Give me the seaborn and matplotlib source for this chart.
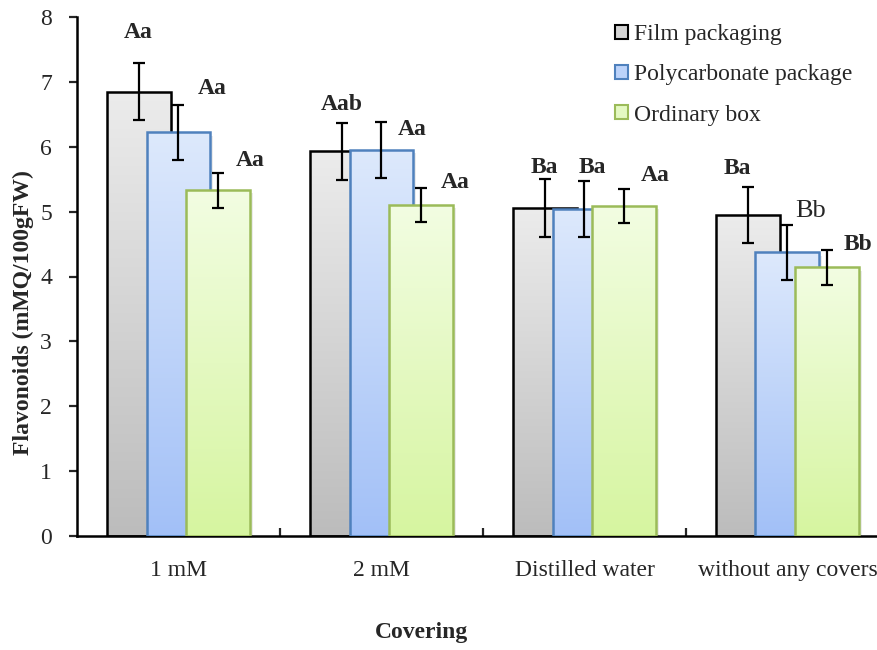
import numpy as np
import pandas as pd
import matplotlib
matplotlib.use("Agg")
import matplotlib.pyplot as plt
from matplotlib.colors import LinearSegmentedColormap
from matplotlib.patches import Patch
import seaborn as sns

# Flavonoid content by covering treatment and packaging type
categories = ["1 mM", "2 mM", "Distilled water", "without any covers"]
series = ["Film packaging", "Polycarbonate package", "Ordinary box"]
film = [6.85, 5.93, 5.06, 4.95]
poly = [6.22, 5.95, 5.04, 4.37]
box = [5.33, 5.10, 5.09, 4.14]
film_err = [0.44, 0.44, 0.45, 0.43]
poly_err = [0.42, 0.43, 0.43, 0.42]
box_err = [0.27, 0.26, 0.26, 0.27]
film_sig = ["Aa", "Aab", "Ba", "Ba"]
poly_sig = ["Aa", "Aa", "Ba", "Bb"]
box_sig = ["Aa", "Aa", "Aa", "Bb"]
yticks = [0, 1, 2, 3, 4, 5, 6, 7, 8]

values = [film, poly, box]
errors = [film_err, poly_err, box_err]
sigs = [film_sig, poly_sig, box_sig]

df = pd.DataFrame({
    "Covering": [c for _ in series for c in categories],
    "Series": [s for s in series for _ in categories],
    "Value": film + poly + box,
})

sns.set_theme(style="ticks")
plt.rcParams["font.family"] = ["Liberation Serif", "DejaVu Serif"]
plt.rcParams["font.size"] = 17

fig = plt.figure(figsize=(8.78, 6.5), dpi=100)
ax = fig.add_axes([77 / 878, 114 / 650, 801 / 878, 519 / 650])

edge_colors = ["#000000", "#4f81bd", "#9bbb59"]
grad_top = ["#ececec", "#dde9fc", "#f2fde2"]
grad_bottom = ["#bcbcbc", "#a2c0f7", "#d6f5a0"]
legend_face = ["#d4d4d4", "#bcd3fa", "#e4f9c2"]

sns.barplot(data=df, x="Covering", y="Value", hue="Series", order=categories,
            hue_order=series, width=0.59, errorbar=None, legend=False, ax=ax)
bar_groups = list(ax.containers)

bar_w = 0.315
grad = np.linspace(1, 0, 256).reshape(-1, 1)
for k, cont in enumerate(bar_groups):
    z = 2 + k
    cmap = LinearSegmentedColormap.from_list(f"g{k}", [grad_bottom[k], grad_top[k]])
    centers = []
    for bar in cont:
        cx = bar.get_x() + bar.get_width() / 2
        centers.append(cx)
        bar.set_x(cx - bar_w / 2)
        bar.set_width(bar_w)
        bar.set_facecolor("none")
        bar.set_edgecolor(edge_colors[k])
        bar.set_linewidth(1.8)
        bar.set_zorder(z)
        x0, h = bar.get_x(), bar.get_height()
        # soft drop shadow on the right of each bar
        ax.add_patch(plt.Rectangle((x0 + 0.012, 0), bar_w, h - 0.05,
                                   facecolor="#000000", alpha=0.08,
                                   edgecolor="none", zorder=z - 0.02))
        im = ax.imshow(grad, cmap=cmap, aspect="auto",
                       extent=(x0, x0 + bar_w, 0, h), zorder=z - 0.01,
                       interpolation="bicubic")
        im.set_clip_path(bar)
    ax.errorbar(centers, values[k], yerr=errors[k], fmt="none", ecolor="black",
                elinewidth=1.6, capsize=4.5, capthick=1.6, zorder=z + 0.5)

# significance letters: offsets (points) from each error bar top
label_dx = [[0, 0, 0, -7], [24, 22, 6, 17], [23, 24, 22, 22]]
label_dy = [[22, 13, 8, 13], [12, -5, 10, 10], [9, 4, 10, 4]]
for k, cont in enumerate(bar_groups):
    for i, bar in enumerate(cont):
        cx = bar.get_x() + bar.get_width() / 2
        top = values[k][i] + errors[k][i]
        plain = (k == 1 and i == 3)
        ax.annotate(sigs[k][i], xy=(cx, top), xytext=(label_dx[k][i], label_dy[k][i]),
                    textcoords="offset points", ha="center", va="center",
                    fontsize=19 if plain else 17,
                    fontweight="normal" if plain else "bold", zorder=10)

ax.set_ylim(0, 8)
ax.set_xlim(-0.5, 3.446)
ax.set_yticks(yticks)
ax.set_yticklabels([str(t) for t in yticks], fontsize=17)
ax.set_xticks(range(len(categories)))
ax.set_xticklabels(categories, fontsize=17)
ax.tick_params(axis="x", which="major", length=0, pad=17)
ax.set_xticks([0.5, 1.5, 2.5], minor=True)
ax.tick_params(axis="x", which="minor", direction="in", length=6, width=1.6)
ax.tick_params(axis="y", direction="out", length=6, width=1.6, pad=12)
for s in ["top", "right"]:
    ax.spines[s].set_visible(False)
for s in ["left", "bottom"]:
    ax.spines[s].set_linewidth(1.8)
    ax.spines[s].set_color("black")

ax.set_ylabel("Flavonoids (mMQ/100gFW)", fontsize=17, fontweight="bold")
ax.yaxis.set_label_coords(-0.054, 0.43)
ax.set_xlabel("Covering", fontsize=17, fontweight="bold")
ax.xaxis.set_label_coords(0.43, -0.166)

handles = [Patch(facecolor=legend_face[k], edgecolor=edge_colors[k], linewidth=1.5)
           for k in range(3)]
fig.legend(handles, series, loc="upper left", bbox_to_anchor=(615 / 878, 1 - 24 / 650),
           frameon=False, fontsize=17, handlelength=0.55, handleheight=0.55,
           handletextpad=0.25, labelspacing=0.82, borderpad=0, borderaxespad=0)

fig.savefig("out.png", dpi=100)
